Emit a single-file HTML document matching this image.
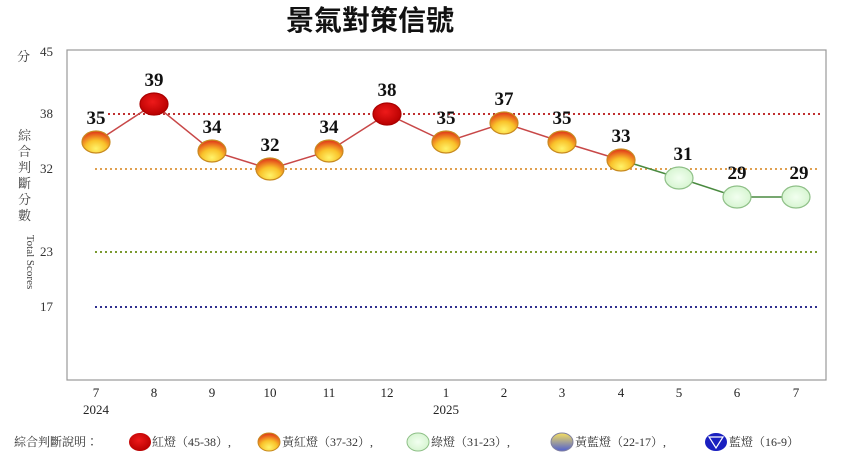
<!DOCTYPE html>
<html><head><meta charset="utf-8"><style>
body{margin:0;background:#fff;width:858px;height:452px;overflow:hidden}
</style></head><body>
<svg width="858" height="452" xmlns="http://www.w3.org/2000/svg" font-family="Liberation Serif, Noto Serif CJK SC, serif">
<defs>
<radialGradient id="yr" cx="50%" cy="80%" r="75%"><stop offset="0" stop-color="#fff36a"/><stop offset="0.5" stop-color="#f9c22a"/><stop offset="1" stop-color="#e2401a"/></radialGradient>
<radialGradient id="rd" cx="45%" cy="40%" r="60%"><stop offset="0" stop-color="#ee1a1a"/><stop offset="1" stop-color="#b80000"/></radialGradient>
<radialGradient id="gr" cx="50%" cy="50%" r="60%"><stop offset="0" stop-color="#f2fff0"/><stop offset="1" stop-color="#d2f3cc"/></radialGradient>
<linearGradient id="yb" x1="0" y1="0" x2="0" y2="1"><stop offset="0" stop-color="#f6e060"/><stop offset="1" stop-color="#5060d0"/></linearGradient>
</defs>
<text x="370" y="30" font-family="Liberation Sans, Noto Sans CJK TC, sans-serif" font-size="28" font-weight="bold" text-anchor="middle" fill="#111">景氣對策信號</text>
<rect x="67" y="50" width="759" height="330" fill="#fff" stroke="#999" stroke-width="1.2"/>
<g font-size="13" fill="#333">
<text x="17" y="61" font-family="Noto Serif CJK TC, serif">分</text>
<text x="40" y="56">45</text><text x="40" y="118">38</text><text x="40" y="173">32</text><text x="40" y="256">23</text><text x="40" y="311">17</text>
</g>
<g font-size="13" fill="#444" font-family="Noto Serif CJK TC, serif">
<text x="18" y="140">綜</text><text x="18" y="156">合</text><text x="18" y="172">判</text><text x="18" y="188">斷</text><text x="18" y="204">分</text><text x="18" y="220">數</text>
</g>
<text transform="translate(27,262) rotate(90)" font-size="11" fill="#444" text-anchor="middle">Total Scores</text>
<g stroke-width="2" stroke-dasharray="2,3">
<line x1="108" y1="114" x2="822" y2="114" stroke="#c03030"/>
<line x1="95" y1="169" x2="820" y2="169" stroke="#e0a050"/>
<line x1="95" y1="252" x2="820" y2="252" stroke="#7a9a30"/>
<line x1="95" y1="307" x2="820" y2="307" stroke="#303090"/>
</g>
<polyline points="96,142 154,104 212,151 270,169 329,151 387,114 446,142 504,123 562,142 621,160" fill="none" stroke="#c84848" stroke-width="1.5"/>
<polyline points="621,160 679,178 737,197 796,197" fill="none" stroke="#4a8a40" stroke-width="1.5"/>
<g stroke-width="1.2">
<ellipse cx="96" cy="142" rx="14" ry="11" fill="url(#yr)" stroke="#c88a20"/>
<ellipse cx="154" cy="104" rx="14" ry="11" fill="url(#rd)" stroke="#a00"/>
<ellipse cx="212" cy="151" rx="14" ry="11" fill="url(#yr)" stroke="#c88a20"/>
<ellipse cx="270" cy="169" rx="14" ry="11" fill="url(#yr)" stroke="#c88a20"/>
<ellipse cx="329" cy="151" rx="14" ry="11" fill="url(#yr)" stroke="#c88a20"/>
<ellipse cx="387" cy="114" rx="14" ry="11" fill="url(#rd)" stroke="#a00"/>
<ellipse cx="446" cy="142" rx="14" ry="11" fill="url(#yr)" stroke="#c88a20"/>
<ellipse cx="504" cy="123" rx="14" ry="11" fill="url(#yr)" stroke="#c88a20"/>
<ellipse cx="562" cy="142" rx="14" ry="11" fill="url(#yr)" stroke="#c88a20"/>
<ellipse cx="621" cy="160" rx="14" ry="11" fill="url(#yr)" stroke="#c88a20"/>
<ellipse cx="679" cy="178" rx="14" ry="11" fill="url(#gr)" stroke="#8fc088"/>
<ellipse cx="737" cy="197" rx="14" ry="11" fill="url(#gr)" stroke="#8fc088"/>
<ellipse cx="796" cy="197" rx="14" ry="11" fill="url(#gr)" stroke="#8fc088"/>
</g>
<g font-size="19" font-weight="bold" fill="#111" text-anchor="middle">
<text x="96" y="124">35</text><text x="154" y="86">39</text><text x="212" y="133">34</text><text x="270" y="151">32</text><text x="329" y="133">34</text><text x="387" y="96">38</text><text x="446" y="124">35</text><text x="504" y="105">37</text><text x="562" y="124">35</text><text x="621" y="142">33</text><text x="683" y="160">31</text><text x="737" y="179">29</text><text x="799" y="179">29</text>
</g>
<g font-size="13" fill="#222" text-anchor="middle">
<text x="96" y="397">7</text><text x="154" y="397">8</text><text x="212" y="397">9</text><text x="270" y="397">10</text><text x="329" y="397">11</text><text x="387" y="397">12</text><text x="446" y="397">1</text><text x="504" y="397">2</text><text x="562" y="397">3</text><text x="621" y="397">4</text><text x="679" y="397">5</text><text x="737" y="397">6</text><text x="796" y="397">7</text>
<text x="96" y="414">2024</text><text x="446" y="414">2025</text>
</g>
<g font-size="12" fill="#333" font-family="Liberation Serif, Noto Serif CJK TC, serif">
<text x="14" y="446">綜合判斷說明：</text>
<ellipse cx="140" cy="442" rx="11" ry="9" fill="url(#rd)"/>
<text x="152" y="446">紅燈（45-38）,</text>
<ellipse cx="269" cy="442" rx="11" ry="9" fill="url(#yr)" stroke="#c88a20"/>
<text x="282" y="446">黃紅燈（37-32）,</text>
<ellipse cx="418" cy="442" rx="11" ry="9" fill="url(#gr)" stroke="#8fc088"/>
<text x="431" y="446">綠燈（31-23）,</text>
<ellipse cx="562" cy="442" rx="11" ry="9" fill="url(#yb)" stroke="#8080a0"/>
<text x="575" y="446">黃藍燈（22-17）,</text>
<ellipse cx="716" cy="442" rx="11" ry="9" fill="#1a20c0"/>
<path d="M709,437 L723,437 L716,448 Z" fill="none" stroke="#fff" stroke-width="1.2"/>
<text x="729" y="446">藍燈（16-9）</text>
</g>
</svg>
</body></html>
